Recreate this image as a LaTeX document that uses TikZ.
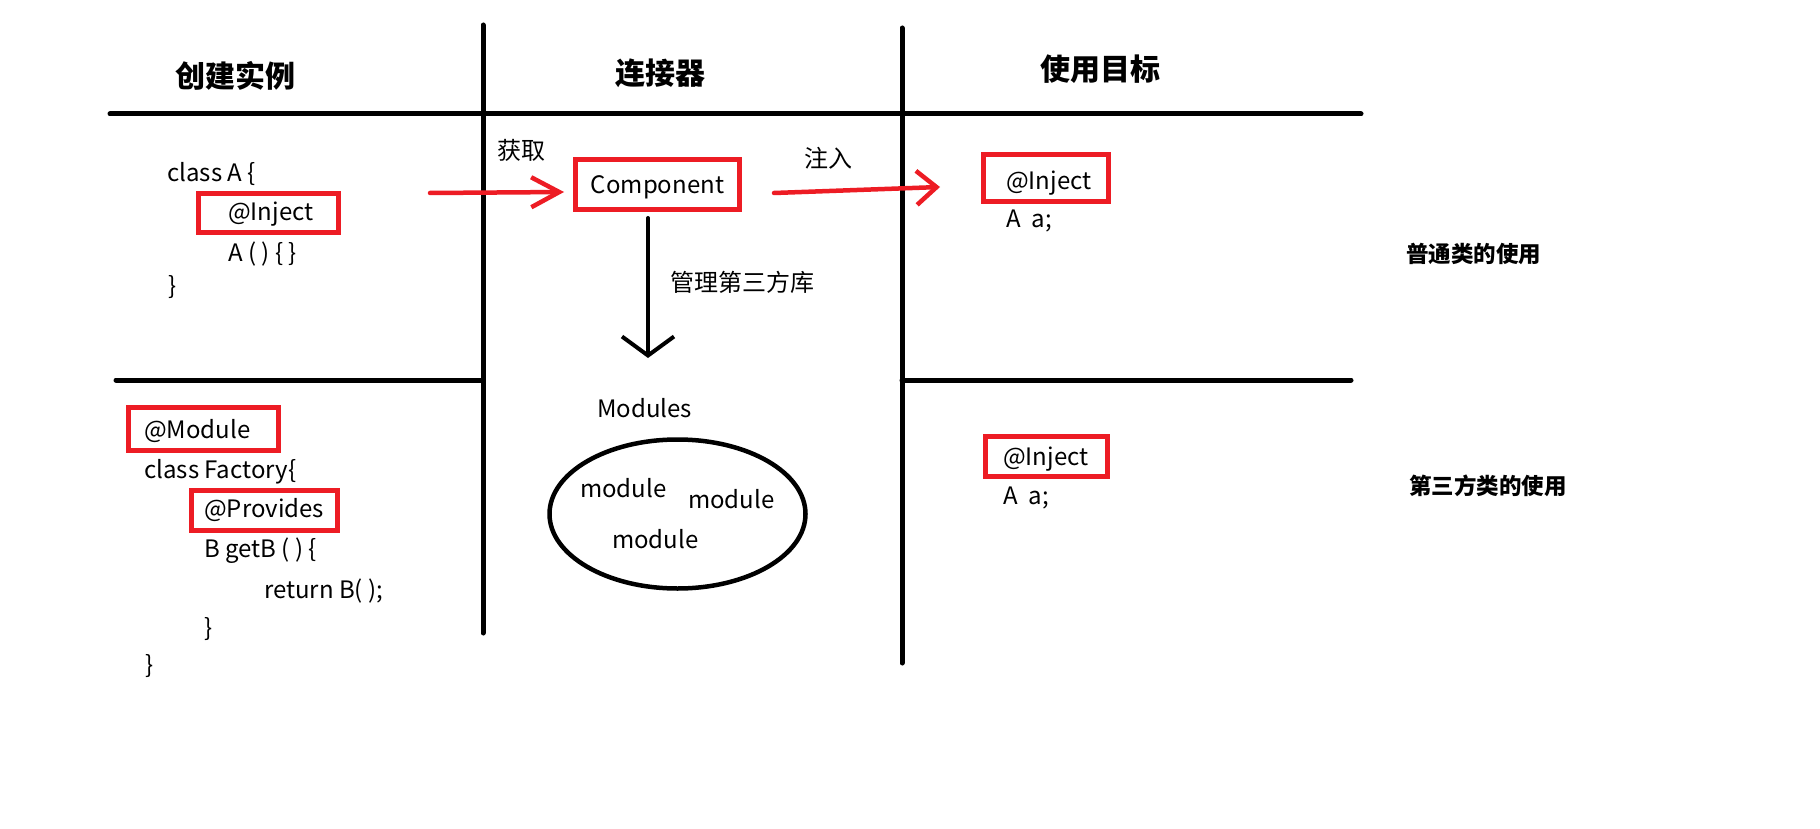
\documentclass[tikz,border=0pt]{standalone}
\usepackage{fontspec}
\setmainfont{Noto Sans CJK SC}
\usetikzlibrary{arrows.meta,shapes.geometric}
\definecolor{pred}{HTML}{ED1C24}
\begin{document}
\begin{tikzpicture}[x=1pt,y=-1pt,
  txt/.style={inner sep=0pt, anchor=base west, font=\fontsize{24}{28}\selectfont},
  ctxt/.style={inner sep=0pt, anchor=base, font=\fontsize{24}{28}\selectfont},
  title/.style={inner sep=0pt, anchor=base, font=\fontsize{30}{34}\selectfont\bfseries},
  side/.style={inner sep=0pt, anchor=base west, font=\fontsize{22.5}{26}\selectfont\bfseries},
  redbox/.style={draw=pred, line width=5pt, inner sep=0pt, rectangle},
  rule/.style={line width=5pt, line cap=round},
  redarrow/.style={draw=pred, line width=4.5pt, line cap=round},
  blackarrow/.style={draw=black, line width=4pt, line cap=round}
]
\useasboundingbox[fill=white] (0,0) rectangle (1820,829);

% grid lines
\draw[rule] (110,114) -- (1361,114);
\draw[rule] (116,380) -- (483,380);
\draw[rule] (902,380) -- (1351,380);
\draw[rule] (483,25) -- (483,633);
\draw[rule] (902,28) -- (902,663);

% titles
\node[title] (t1) at (235,88) {创建实例};
\node[title] (t2) at (660,85) {连接器};
\node[title] (t3) at (1100,81) {使用目标};

% top-left code
\node[txt] (ca) at (167,182) {class A \{};
\node[redbox, minimum width=140pt, minimum height=39pt] (bInjL) at (268.5,213) {};
\node[txt] (injL) at (228,221) {@Inject};
\node[txt] (ctor) at (228,261) {A ( ) \{ \}};
\node[txt] (cbr) at (168,294) {\}};

% component
\node[redbox, minimum width=164pt, minimum height=50pt] (comp) at (657.5,184.5) {};
\node[ctxt] (compt) at (657.5,194) {Component};
\node[txt] (get) at (497,160) {获取};
\node[txt] (inj) at (804,168) {注入};
\node[txt] (mg) at (670,291) {管理第三方库};

\coordinate (getstart) at (430,193);
\coordinate (gettip) at (564,192);
\draw[redarrow, -{Straight Barb[length=28pt,width=30pt]}] (getstart) -- (gettip);

\coordinate (injstart) at (774,193);
\coordinate (injtip) at (940,187);
\draw[redarrow, -{Straight Barb[length=20pt,width=34pt]}] (injstart) -- (injtip);

\coordinate (modtip) at (648,358);
\draw[blackarrow, shorten <=6pt, -{Straight Barb[length=19pt,width=52pt]}] (comp.south -| modtip) -- (modtip);

% top-right
\node[redbox, minimum width=125pt, minimum height=47pt] (bInjR) at (1046,178) {};
\node[txt] (injR) at (1006,190) {@Inject};
\node[txt] (aR) at (1006,228) {A\ \ a;};
\node[side] (s1) at (1406,262) {普通类的使用};

% bottom-left code
\node[redbox, minimum width=150pt, minimum height=43pt] (bMod) at (203.5,429) {};
\node[txt] (mod) at (144,438) {@Module};
\node[txt] (cf) at (144,478) {class Factory\{};
\node[redbox, minimum width=146pt, minimum height=40pt] (bProv) at (264.5,510.5) {};
\node[txt] (prov) at (204,517) {@Provides};
\node[txt] (gb) at (204,557) {B getB ( ) \{};
\node[txt] (ret) at (264,598) {return B( );};
\node[txt] (ibr) at (204,636) {\}};
\node[txt] (obr) at (145,673) {\}};

% modules
\node[txt] (mods) at (597,417) {Modules};
\node[draw, ellipse, line width=4.5pt, minimum width=256pt, minimum height=149pt, inner sep=0pt] (ell) at (677.5,514) {};
\node[txt] (m1) at (580,497) {module};
\node[txt] (m2) at (688,508) {module};
\node[txt] (m3) at (612,548) {module};

% bottom-right
\node[redbox, minimum width=122pt, minimum height=40pt] (bInjB) at (1046.5,456.5) {};
\node[txt] (injB) at (1003,465) {@Inject};
\node[txt] (aB) at (1003,504) {A\ \ a;};
\node[side] (s2) at (1409,494) {第三方类的使用};
\end{tikzpicture}
\end{document}
